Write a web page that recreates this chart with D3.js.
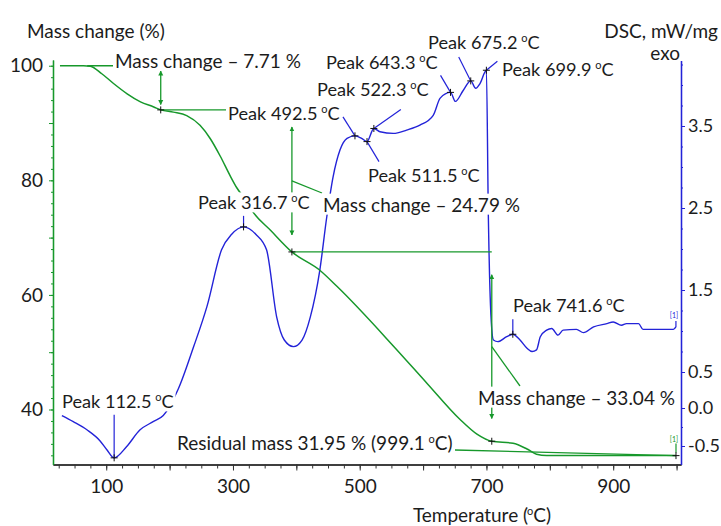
<!DOCTYPE html>
<html>
<head>
<meta charset="utf-8">
<script src="https://cdn.jsdelivr.net/npm/d3@7"></script>
<style>
body { margin: 0; background: #fff; }
text { font-family: Lato, "Open Sans", sans-serif; fill: #1c1c1c; }
</style>
</head>
<body>
<svg id="chart" width="721" height="526"></svg>
<script>
// TG curve: temperature (°C) and mass (%)
var tgTemp = [27, 64, 75, 93, 111.5, 133, 154, 175, 186, 206, 227, 248, 264, 280, 296, 306, 319, 330, 360, 393,
    437, 464, 553, 606, 658, 685, 708.4, 742, 764, 779, 795, 999.1];
var tgMass = [100.0, 100.0, 99.9, 98.6, 96.9, 95.1, 93.7, 92.8, 92.29, 91.9, 91.3, 89.6, 87.3, 84.2, 80.7, 78.7, 76.7, 74.7, 71.2, 67.50,
    64.3, 61.5, 51.1, 44.6, 38.3, 35.7, 34.46, 34.1, 33.1, 32.2, 31.98, 31.95];

// DSC curve: temperature (°C) and heat flow (mW/mg)
var dscTemp = [30, 48, 70, 90, 101, 112.5, 132, 153, 174, 190, 214, 238, 259, 282, 298, 316.7, 336, 353, 369, 381,
    395.4, 409, 422, 437, 448, 458, 469, 480, 492.5, 503, 511.5, 522.3, 532, 553, 574, 595, 616, 627, 643.3, 651,
    663, 675.2, 683, 690, 699.9, 703, 707, 711, 718, 732, 741.6, 753, 764, 772, 779, 785, 795, 803, 813, 821,
    842, 853, 869, 890, 900, 913, 921, 940, 947, 995, 999];
var dscVal = [-0.10, -0.18, -0.29, -0.43, -0.55, -0.66, -0.51, -0.29, -0.18, -0.10, 0.27, 0.81, 1.30, 1.99, 2.18, 2.27, 2.18, 1.99, 1.17, 0.89,
    0.81, 0.89, 1.17, 1.74, 2.39, 2.88, 3.21, 3.35, 3.38, 3.35, 3.31, 3.47, 3.43, 3.41, 3.45, 3.51, 3.63, 3.84, 3.91, 3.80,
    3.93, 4.05, 3.96, 4.02, 4.18, 2.4, 1.2, 0.89, 0.87, 0.93, 0.96, 0.89, 0.79, 0.75, 0.77, 0.93, 1.01, 1.03, 0.95, 1.01,
    1.02, 0.98, 1.05, 1.09, 1.11, 1.07, 1.09, 1.09, 1.02, 1.02, 1.05];

// tick labels
var xTicks = [100, 300, 500, 700, 900];
var massTicks = [40, 60, 80, 100];
var dscTicks = [-0.5, 0.0, 0.5, 1.5, 2.5, 3.5];

// annotations
var dscPeaks = [112.5, 316.7, 492.5, 511.5, 522.3, 643.3, 675.2, 699.9, 741.6];
var stepTemps = [186, 393, 708.4];
var stepLevels = [100, 92.29, 67.50, 34.46];
var massChanges = [7.71, 24.79, 33.04];
var residualMass = 31.95;
var residualTemp = 999.1;

var green = '#17982b';
var blue = '#2323d8';

var margin = {top: 60, left: 53};
var width = 628;
var height = 404.5;

var svg = d3.select('#chart');
var defs = svg.append('defs');
defs.append('marker')
    .attr('id', 'arrow')
    .attr('viewBox', '0 0 10 10')
    .attr('refX', 9).attr('refY', 5)
    .attr('markerWidth', 5).attr('markerHeight', 6)
    .attr('markerUnits', 'userSpaceOnUse')
    .attr('orient', 'auto-start-reverse')
    .append('path')
    .attr('d', 'M0,0L10,5L0,10z')
    .attr('fill', green);

var g = svg.append('g')
    .attr('transform', 'translate(' + margin.left + ',' + margin.top + ')');

var xScale = d3.scaleLinear().domain([16, 1007]).range([0, width]);
var yMass = d3.scaleLinear().domain([30.4, 101]).range([height, 0]);
// the DSC axis of the original is not uniform below 0.5
var yDsc = d3.scaleLinear()
    .domain([-0.75, -0.5, 0, 0.5, 4.3])
    .range([404.5, 386, 348, 312, 0.4]);

function styleAxis(sel, color, size) {
    sel.select('.domain').attr('stroke', color).attr('stroke-width', 1.3);
    sel.selectAll('.tick line').attr('stroke', color);
    sel.selectAll('.tick text')
        .attr('font-family', 'Lato, sans-serif')
        .attr('font-size', size)
        .attr('fill', '#1c1c1c');
}

// X axis
var xAxisMinor = g.append('g').attr('transform', 'translate(0,' + height + ')')
    .call(d3.axisBottom(xScale).tickValues(d3.range(25, 1001, 25)).tickSize(4).tickSizeOuter(0).tickFormat(''));
styleAxis(xAxisMinor, '#333', 0);
var xAxis = g.append('g').attr('transform', 'translate(0,' + height + ')')
    .call(d3.axisBottom(xScale).tickValues(d3.range(100, 1001, 100)).tickSize(6).tickSizeOuter(0).tickPadding(9)
        .tickFormat(function (d) { return xTicks.indexOf(d) >= 0 ? d : ''; }));
styleAxis(xAxis, '#333', 19);

// left axis (mass)
var yAxisMinor = g.append('g')
    .call(d3.axisLeft(yMass).tickValues(d3.range(32, 101, 2)).tickSize(2).tickSizeOuter(0).tickFormat(''));
styleAxis(yAxisMinor, green, 0);
var yAxisMid = g.append('g')
    .call(d3.axisLeft(yMass).tickValues(d3.range(40, 101, 10)).tickSize(4).tickSizeOuter(0).tickPadding(6)
        .tickFormat(function (d) { return massTicks.indexOf(d) >= 0 ? d : ''; }));
styleAxis(yAxisMid, green, 19);

// right axis (DSC)
var dscAxisMinor = g.append('g').attr('transform', 'translate(' + width + ',0)')
    .call(d3.axisRight(yDsc).tickValues(d3.range(0.75, 4.3, 0.25).concat([-0.25])).tickSize(2).tickSizeOuter(0).tickFormat(''));
styleAxis(dscAxisMinor, blue, 0);
var dscAxis = g.append('g').attr('transform', 'translate(' + width + ',0)')
    .call(d3.axisRight(yDsc).tickValues(dscTicks).tickSize(4).tickSizeOuter(0).tickPadding(3)
        .tickFormat(function (d) { return d.toFixed(1); }));
styleAxis(dscAxis, blue, 18);

// curves
var tgData = tgTemp.map(function (t, i) { return {t: t, v: tgMass[i]}; });
var dscData = dscTemp.map(function (t, i) { return {t: t, v: dscVal[i]}; });

var tgLine = d3.line()
    .x(function (d) { return xScale(d.t); })
    .y(function (d) { return yMass(d.v); })
    .curve(d3.curveMonotoneX);
var dscLine = d3.line()
    .x(function (d) { return xScale(d.t); })
    .y(function (d) { return yDsc(d.v); })
    .curve(d3.curveMonotoneX);

g.append('path').datum(dscData)
    .attr('fill', 'none').attr('stroke', blue).attr('stroke-width', 1.4)
    .attr('d', dscLine);
g.append('path').datum(tgData)
    .attr('fill', 'none').attr('stroke', green).attr('stroke-width', 1.5)
    .attr('d', tgLine);

// end markers [1]
var lastDsc = dscData[dscData.length - 1];
var lastTg = tgData[tgData.length - 1];
g.append('line')
    .attr('x1', xScale(lastDsc.t)).attr('x2', xScale(lastDsc.t))
    .attr('y1', yDsc(lastDsc.v)).attr('y2', yDsc(lastDsc.v) - 6)
    .attr('stroke', blue).attr('stroke-width', 1.2);
g.append('text')
    .attr('x', xScale(lastDsc.t) - 2).attr('y', yDsc(lastDsc.v) - 9)
    .attr('text-anchor', 'middle').attr('font-size', 7).style('fill', blue)
    .text('[1]');
g.append('line')
    .attr('x1', xScale(lastTg.t)).attr('x2', xScale(lastTg.t))
    .attr('y1', yMass(lastTg.v) - 3).attr('y2', yMass(lastTg.v) - 12)
    .attr('stroke', green).attr('stroke-width', 1.2);
g.append('text')
    .attr('x', xScale(lastTg.t) - 2).attr('y', yMass(lastTg.v) - 14)
    .attr('text-anchor', 'middle').attr('font-size', 7).style('fill', green)
    .text('[1]');

// mass change construction lines
var lines = g.append('g').attr('stroke', green).attr('stroke-width', 1.3).attr('fill', 'none');

// level lines
lines.append('line')
    .attr('x1', xScale(70)).attr('x2', xScale(130))
    .attr('y1', yMass(stepLevels[0])).attr('y2', yMass(stepLevels[0]));
for (var i = 1; i < stepLevels.length - 1; i++) {
    lines.append('line')
        .attr('x1', xScale(stepTemps[i - 1])).attr('x2', xScale(stepTemps[i]))
        .attr('y1', yMass(stepLevels[i])).attr('y2', yMass(stepLevels[i]));
}

// double arrows
var arrowMid = [];
stepTemps.forEach(function (t, i) {
    var yTop = yMass(stepLevels[i]);
    var yBot = yMass(stepLevels[i + 1]);
    var gap = (yBot - yTop) * 0.12;
    lines.append('line')
        .attr('x1', xScale(t)).attr('x2', xScale(t))
        .attr('y1', yTop + gap).attr('y2', yBot - gap)
        .attr('marker-start', 'url(#arrow)')
        .attr('marker-end', 'url(#arrow)');
    arrowMid.push([xScale(t), (yTop + yBot) / 2]);
});

// leaders from arrows to the labels
lines.append('line')
    .attr('x1', arrowMid[1][0]).attr('y1', arrowMid[1][1])
    .attr('x2', 269).attr('y2', 133);
lines.append('line')
    .attr('x1', arrowMid[2][0]).attr('y1', arrowMid[2][1])
    .attr('x2', 467).attr('y2', 326);
// residual mass leader
lines.append('line')
    .attr('x1', 402).attr('y1', 390)
    .attr('x2', xScale(residualTemp)).attr('y2', yMass(residualMass));

// DSC peak leaders
var peakLayout = [
    {lx: 9, ly: 342, dx: 0, dy: -43},
    {lx: 145, ly: 143, dx: 0, dy: -11},
    {lx: 175, ly: 54, dx: -12, dy: -19},
    {lx: 315, ly: 116, dx: 12, dy: 20},
    {lx: 264, ly: 30, dx: 27, dy: -19},
    {lx: 273, ly: 3, dx: -10, dy: -17},
    {lx: 375, ly: -17, dx: -12, dy: -24},
    {lx: 449, ly: 10, dx: 11, dy: -9},
    {lx: 460, ly: 246, dx: 0, dy: -15}
];
var peakPts = dscPeaks.map(function (t) {
    var i = dscTemp.indexOf(t);
    return [xScale(t), yDsc(dscVal[i])];
});
var peakLines = g.append('g').attr('stroke', blue).attr('stroke-width', 1.2);
peakPts.forEach(function (p, i) {
    var lay = peakLayout[i];
    peakLines.append('line')
        .attr('x1', p[0]).attr('y1', p[1])
        .attr('x2', p[0] + lay.dx).attr('y2', p[1] + lay.dy);
});

// + markers
function cross(x, y) {
    g.append('path')
        .attr('d', 'M' + (x - 3.5) + ',' + y + 'h7M' + x + ',' + (y - 3.5) + 'v7')
        .attr('stroke', '#111').attr('stroke-width', 1);
}
peakPts.forEach(function (p) { cross(p[0], p[1]); });
stepTemps.forEach(function (t, i) { cross(xScale(t), yMass(stepLevels[i + 1])); });
cross(xScale(residualTemp), yMass(residualMass));

// labels with white background, degree sign drawn as raised o
function label(x, cy, str, size) {
    var grp = g.append('g');
    var rect = grp.append('rect').attr('fill', '#fff');
    var txt = grp.append('text')
        .attr('x', x).attr('y', cy).attr('dy', '0.35em')
        .attr('font-size', size || 19);
    var parts = str.split('\u00b0');
    txt.append('tspan').text(parts[0]);
    if (parts.length > 1) {
        txt.append('tspan').attr('dy', -7).attr('dx', -1).attr('font-size', 11).text('o');
        txt.append('tspan').attr('dy', 7).text(parts[1]);
    }
    var bb = txt.node().getBBox();
    rect.attr('x', bb.x - 2).attr('y', bb.y + 1)
        .attr('width', bb.width + 4).attr('height', bb.height - 2);
    return txt;
}

dscPeaks.forEach(function (t, i) {
    label(peakLayout[i].lx, peakLayout[i].ly, 'Peak ' + t.toFixed(1) + ' \u00b0C', 18.2);
});
label(62, 1, 'Mass change \u2013 ' + massChanges[0].toFixed(2) + ' %');
label(270, 145, 'Mass change \u2013 ' + massChanges[1].toFixed(2) + ' %');
label(425, 338, 'Mass change \u2013 ' + massChanges[2].toFixed(2) + ' %');
label(124, 383, 'Residual mass ' + residualMass.toFixed(2) + ' % (' + residualTemp.toFixed(1) + ' \u00b0C)');

// axis titles
function title(x, y, anchor, str) {
    var txt = svg.append('text')
        .attr('x', x).attr('y', y).attr('dy', '0.35em')
        .attr('text-anchor', anchor).attr('font-size', 19);
    var parts = str.split('\u00b0');
    txt.append('tspan').text(parts[0]);
    if (parts.length > 1) {
        txt.append('tspan').attr('dy', -7).attr('dx', -1).attr('font-size', 11).text('o');
        txt.append('tspan').attr('dy', 7).text(parts[1]);
    }
}
title(27, 31, 'start', 'Mass change (%)');
title(718, 31, 'end', 'DSC, mW/mg');
title(680, 53, 'end', 'exo');
title(482, 515, 'middle', 'Temperature (\u00b0C)');
</script>
</body>
</html>
